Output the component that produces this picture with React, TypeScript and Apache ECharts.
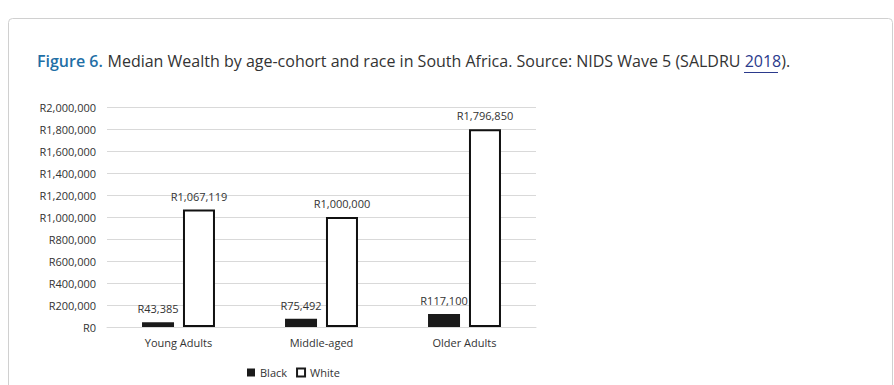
import React, { useEffect, useRef } from "react";
import * as echarts from "echarts";

const categories = ["Young Adults", "Middle-aged", "Older Adults"];
const blackValues = [43385, 75492, 117100];
const whiteValues = [1067119, 1000000, 1796850];
const seriesNames = ["Black", "White"];
const yMax = 2000000;
const yInterval = 200000;

const fmt = (v: number) => "R" + Math.round(v).toLocaleString("en-US");
const FONT = "'Open Sans', 'Noto Sans', sans-serif";

export default function App() {
  const ref = useRef<HTMLDivElement>(null);
  useEffect(() => {
    if (!ref.current) return;
    const chart = echarts.init(ref.current, null, { renderer: "svg" });
    chart.setOption({
      animation: false,
      backgroundColor: "#ffffff",
      textStyle: { fontFamily: FONT },
      title: {
        left: 37,
        top: 52,
        padding: 0,
        text:
          "{a|Figure 6.} {b|Median Wealth by age-cohort and race in South Africa. Source: NIDS Wave 5 (SALDRU }{c|2018}{b|).}",
        textStyle: {
          rich: {
            a: { fontFamily: FONT, fontSize: 16, fontWeight: 600, color: "#1f6fa6" },
            b: { fontFamily: FONT, fontSize: 16, fontWeight: 400, color: "#333333" },
            c: { fontFamily: FONT, fontSize: 16, fontWeight: 400, color: "#2b3a8c" },
          },
        },
      },
      graphic: [
        {
          type: "rect",
          left: 6,
          top: 16,
          shape: { width: 884, height: 400, r: 4 },
          style: { fill: "none", stroke: "#d0d0d0", lineWidth: 1 },
          silent: true,
          z: -1,
        },
        {
          type: "line",
          shape: { x1: 744, y1: 72.5, x2: 778, y2: 72.5 },
          style: { stroke: "#2b3a8c", lineWidth: 1 },
          silent: true,
        },
      ],
      legend: {
        data: [
          {
            name: seriesNames[0],
            icon: "rect",
            itemStyle: { color: "#1a1a1a", borderWidth: 0 },
          },
          {
            name: seriesNames[1],
            icon: "rect",
            itemStyle: { color: "#ffffff", borderColor: "#1a1a1a", borderWidth: 2 },
          },
        ],
        left: 242,
        top: 362,
        itemWidth: 8,
        itemHeight: 8,
        itemGap: 9,
        textStyle: { fontFamily: FONT, fontSize: 11, color: "#333333" },
      },
      grid: { left: 107, right: 358, top: 107, bottom: 58, containLabel: false },
      xAxis: {
        type: "category",
        data: categories,
        axisLine: { lineStyle: { color: "#d9d9d9", width: 1 } },
        axisTick: { show: false },
        axisLabel: { fontFamily: FONT, fontSize: 11, color: "#333333", margin: 10 },
      },
      yAxis: {
        type: "value",
        min: 0,
        max: yMax,
        interval: yInterval,
        axisLine: { show: false },
        axisTick: { show: false },
        splitLine: { lineStyle: { color: "#d9d9d9", width: 1 } },
        axisLabel: {
          fontFamily: FONT,
          fontSize: 11,
          color: "#333333",
          margin: 11,
          formatter: (v: number) => fmt(v),
        },
      },
      series: [
        {
          name: seriesNames[0],
          type: "bar",
          data: blackValues,
          barWidth: 32,
          barGap: "28%",
          itemStyle: { color: "#1a1a1a" },
          label: {
            show: true,
            position: "top",
            distance: 8,
            fontFamily: FONT,
            fontSize: 11,
            color: "#333333",
            formatter: (p: any) => fmt(p.value),
          },
        },
        {
          name: seriesNames[1],
          type: "bar",
          data: whiteValues,
          barWidth: 32,
          barGap: "28%",
          itemStyle: { color: "#ffffff", borderColor: "#111111", borderWidth: 2 },
          label: {
            show: true,
            position: "top",
            distance: 8,
            fontFamily: FONT,
            fontSize: 11,
            color: "#333333",
            formatter: (p: any) => fmt(p.value),
          },
        },
      ],
    });
    return () => chart.dispose();
  }, []);
  return (
    <div
      ref={ref}
      style={{ position: "fixed", left: 0, top: 0, width: 894, height: 385 }}
    />
  );
}
